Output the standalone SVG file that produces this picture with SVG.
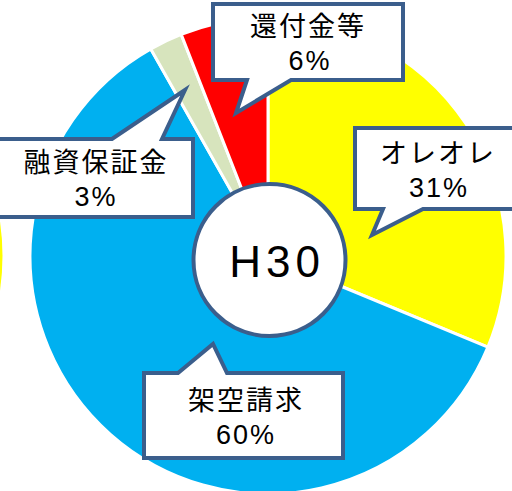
<svg xmlns="http://www.w3.org/2000/svg" width="512" height="491" viewBox="0 0 512 491">
<style>
.slice{stroke:#FFFFFF;stroke-width:3;stroke-linejoin:round}
.callout{fill:#FFFFFF;stroke:#3B5E8C;stroke-width:4;stroke-linejoin:miter}
.lbl{font-family:"Noto Sans CJK JP","Noto Sans",sans-serif;font-size:27px;fill:#000000;text-anchor:middle;letter-spacing:2px}
.num{font-family:"Liberation Sans","Noto Sans",sans-serif;font-size:27px;fill:#000000;text-anchor:middle;letter-spacing:2px}
</style>
<rect width="512" height="491" fill="#FFFFFF"/>
<g id="pie">
<path class="slice" fill="#FFFF00" d="M268,256 L268,18 A238,238 0 0 1 487.9,347.1 Z"/>
<path class="slice" fill="#00B0F0" d="M268,256 L487.9,347.1 A238,238 0 1 1 150.8,48.9 Z"/>
<path class="slice" fill="#D7E4BD" d="M268,256 L150.8,48.9 A238,238 0 0 1 181.2,34.4 Z"/>
<path class="slice" fill="#FF0000" d="M268,256 L181.2,34.4 A238,238 0 0 1 268,18 Z"/>
</g>
<g id="left-pie-edge">
<circle cx="-237.5" cy="256" r="240" fill="#FFFF00"/>
</g>
<g id="center-label">
<circle cx="269.5" cy="260" r="76" fill="#FFFFFF" stroke="#3B5E8C" stroke-width="4"/>
<text x="277" y="277" font-family="'Liberation Sans','Noto Sans',sans-serif" font-size="44" letter-spacing="5" text-anchor="middle" fill="#000000">H30</text>
</g>
<g id="connectors"></g>
<g id="callout-kanpu">
<path class="callout" d="M213,4 L403,4 L403,80 L291,80 L236,113 L247,80 L213,80 Z"/>
<text class="lbl" x="308" y="36">還付金等</text>
<text class="num" x="310" y="70">6%</text>
</g>
<g id="callout-yushi">
<path class="callout" d="M-3,139 L112,139 L185,90 L162,139 L193,139 L193,217 L-3,217 Z"/>
<text class="lbl" x="96" y="172">融資保証金</text>
<text class="num" x="96" y="206">3%</text>
</g>
<g id="callout-oreore">
<path class="callout" d="M355,128 L518,128 L518,209 L423,209 L372,235 L383,209 L355,209 Z"/>
<text class="lbl" x="438" y="163">オレオレ</text>
<text class="num" x="439" y="197">31%</text>
</g>
<g id="callout-kaku">
<path class="callout" d="M144,373 L178,373 L213,344 L227,373 L343,373 L343,458 L144,458 Z"/>
<text class="lbl" x="246" y="410">架空請求</text>
<text class="num" x="246" y="444">60%</text>
</g>
</svg>
